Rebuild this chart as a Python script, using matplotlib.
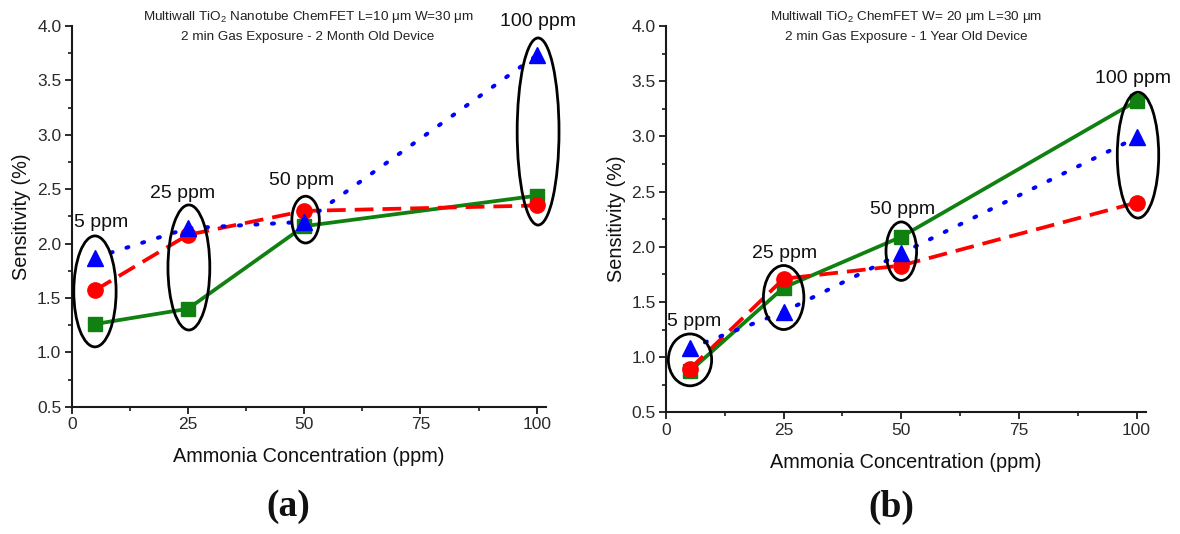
import matplotlib
matplotlib.use("Agg")
import matplotlib.pyplot as plt
from matplotlib.patches import Ellipse
from matplotlib.ticker import MultipleLocator

plt.rcParams["font.family"] = ["Liberation Sans", "DejaVu Sans"]
plt.rcParams["mathtext.fontset"] = "custom"
plt.rcParams["mathtext.rm"] = "Liberation Sans"
plt.rcParams["mathtext.it"] = "Liberation Sans:italic"

# Ammonia concentrations (ppm)
conc = [5, 25, 50, 100]
conc_labels = ["5 ppm", "25 ppm", "50 ppm", "100 ppm"]

# Panel (a): 2-month-old device, sensitivity (%)
a_circle = [1.57, 2.08, 2.30, 2.35]
a_triangle = [1.87, 2.14, 2.20, 3.73]
a_square = [1.26, 1.40, 2.16, 2.44]

# Panel (b): 1-year-old device, sensitivity (%)
b_circle = [0.89, 1.71, 1.83, 2.40]
b_triangle = [1.08, 1.41, 1.94, 2.99]
b_square = [0.87, 1.63, 2.09, 3.32]

titles_a = ["Multiwall TiO$_2$ Nanotube ChemFET L=10 \u03bcm W=30 \u03bcm",
            "2 min Gas Exposure - 2 Month Old Device"]
titles_b = ["Multiwall TiO$_2$ ChemFET W= 20 \u03bcm L=30 \u03bcm",
            "2 min Gas Exposure - 1 Year Old Device"]

RED = "#ff0000"
BLUE = "#0000ff"
GREEN = "#108010"

W, H = 1180, 534
fig = plt.figure(figsize=(W / 100, H / 100), dpi=100)


def px_axes(left, right, top, bottom):
    return fig.add_axes([left / W, 1 - bottom / H, (right - left) / W, (bottom - top) / H])


def draw_panel(ax, circ, tri, sq, ellipses, label_pos):
    ax.plot(conc, sq, color=GREEN, lw=2.7, marker="s", ms=10, zorder=3)
    ax.plot(conc, circ, color=RED, lw=2.7, marker="o", ms=11,
            dashes=(5, 2.4), zorder=4)
    ax.plot(conc, tri, color=BLUE, lw=2.9, marker="^", ms=11.5,
            dashes=(0.5, 3.6), dash_capstyle="round", zorder=5)

    for (cx, cy, w, h) in ellipses:
        ax.add_patch(Ellipse((cx, cy), w, h, fill=False, ec="black",
                             lw=2.0, zorder=6, clip_on=False))
    for text, (tx, ty) in zip(conc_labels, label_pos):
        ax.text(tx, ty, text, ha="center", va="center", fontsize=14,
                color="#111111", zorder=7, clip_on=False)

    ax.set_xlim(0, 102)
    ax.set_ylim(0.5, 4.0)
    ax.xaxis.set_minor_locator(MultipleLocator(12.5))
    ax.yaxis.set_minor_locator(MultipleLocator(0.25))
    ax.set_xticks([0, 25, 50, 75, 100])
    ax.set_xticklabels(["0", "25", "50", "75", "100"])
    ax.set_yticks([0.5, 1.0, 1.5, 2.0, 2.5, 3.0, 3.5, 4.0])
    for side in ("top", "right"):
        ax.spines[side].set_visible(False)
    for side in ("left", "bottom"):
        ax.spines[side].set_linewidth(1.5)
        ax.spines[side].set_color("#1a1a1a")
    ax.tick_params(which="major", direction="out", length=5, width=1.3,
                   labelsize=12.5, colors="#1a1a1a", labelcolor="#2a2a2a", pad=2.5)
    ax.tick_params(which="minor", direction="out", length=3, width=1.2,
                   colors="#1a1a1a")
    ax.set_xlabel("Ammonia Concentration (ppm)", fontsize=14.3, color="#111111",
                  labelpad=11)
    ax.set_ylabel("Sensitivity (%)", fontsize=14.3, color="#111111", labelpad=4)
    ax.patch.set_alpha(0)


ax_a = px_axes(71.7, 546, 26, 406.7)
draw_panel(
    ax_a, a_circle, a_triangle, a_square,
    ellipses=[(5, 1.56, 9.1, 1.02), (25.2, 1.78, 9.0, 1.15),
              (50.3, 2.22, 5.9, 0.43), (100.3, 3.03, 9.0, 1.72)],
    label_pos=[(6.3, 2.19), (23.8, 2.46), (49.4, 2.58), (100.3, 4.04)],
)

ax_b = px_axes(666, 1146, 26, 412.3)
draw_panel(
    ax_b, b_circle, b_triangle, b_square,
    ellipses=[(5.1, 0.975, 9.2, 0.47), (25.0, 1.54, 8.6, 0.58),
              (50.0, 1.96, 6.5, 0.53), (100.3, 2.83, 8.8, 1.14)],
    label_pos=[(5.9, 1.32), (25.3, 1.94), (50.2, 2.34), (99.2, 3.52)],
)

for lines, xc in ((titles_a, 308), (titles_b, 906)):
    fig.text(xc / W, 1 - 17 / H, lines[0], ha="center", va="center",
             fontsize=9.7, color="#222222")
    fig.text(xc / W, 1 - 37 / H, lines[1], ha="center", va="center",
             fontsize=9.7, color="#222222")

for text, xc in (("(a)", 288), ("(b)", 891)):
    fig.text(xc / W, 1 - 507 / H, text, ha="center", va="center",
             fontsize=27, fontweight="bold", family="Liberation Serif",
             color="#111111")

fig.savefig("out.png", dpi=100, facecolor="white")
